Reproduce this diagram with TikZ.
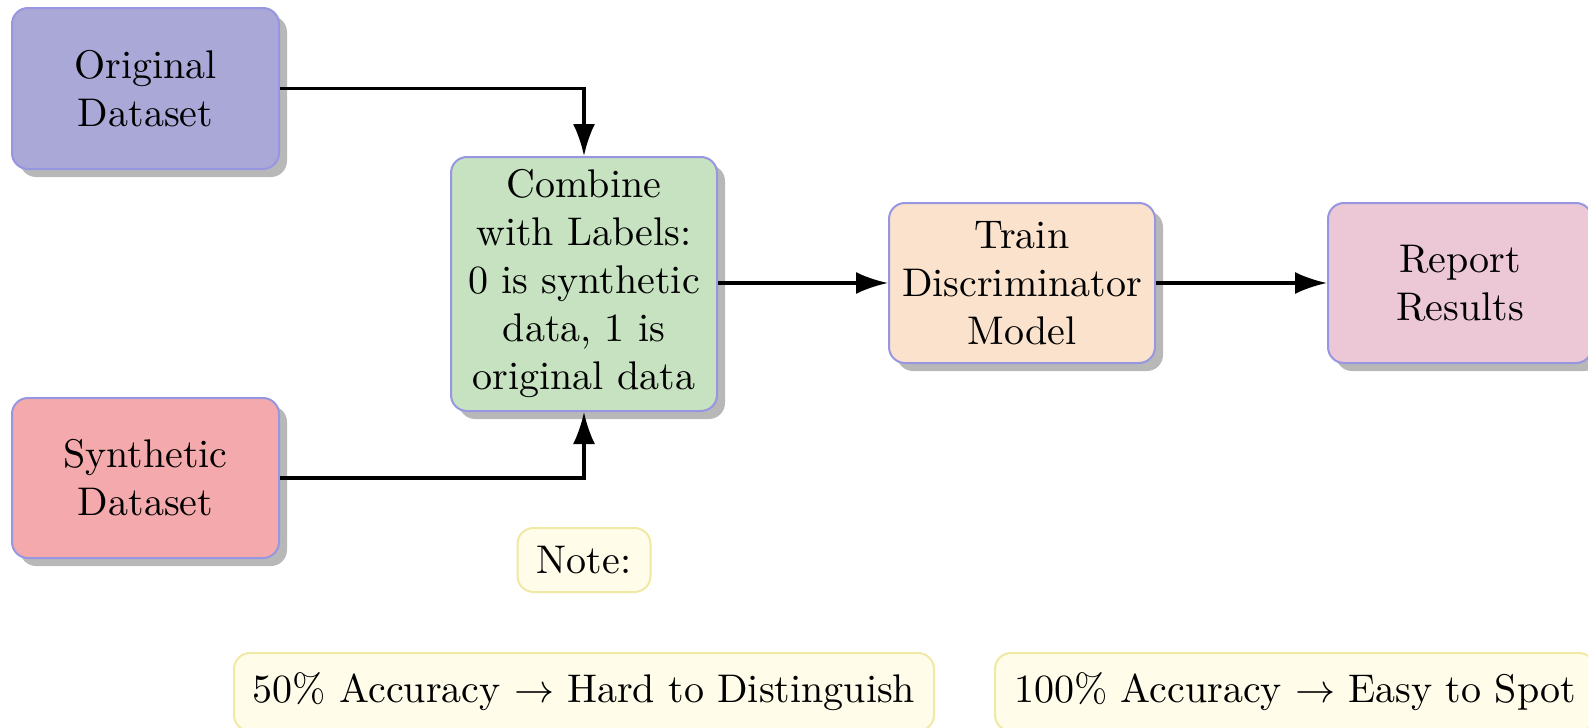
\documentclass[tikz,border=0pt]{standalone}
\usetikzlibrary{arrows.meta,shadows}

\definecolor{origfill}{RGB}{170,168,214}
\definecolor{combfill}{RGB}{198,226,192}
\definecolor{trainfill}{RGB}{250,226,204}
\definecolor{reportfill}{RGB}{236,200,214}
\definecolor{synthfill}{RGB}{244,170,172}
\definecolor{boxline}{RGB}{150,150,225}
\definecolor{notefill}{RGB}{255,253,233}
\definecolor{noteline}{RGB}{240,232,165}

\tikzset{
  stage/.style={draw=boxline, line width=0.5pt, rounded corners=4pt,
    align=center, inner sep=0pt, font=\normalsize,
    drop shadow={shadow xshift=2pt, shadow yshift=-2pt, fill=black, opacity=0.28}},
  notebox/.style={draw=noteline, fill=notefill, line width=0.5pt,
    rounded corners=4pt, align=center, inner sep=0pt},
  flow/.style={line width=0.8pt, -{Latex[length=8pt,width=5.5pt]}}
}

\begin{document}
\begin{tikzpicture}[x=0.25pt, y=-0.25pt]
  \useasboundingbox (0,0) rectangle (1588,728);

  % process stages
  \node[stage, fill=origfill, minimum width=66.75pt, minimum height=40.25pt]
    (orig) at (145.5,88.5) {Original\\Dataset};
  \node[stage, fill=synthfill, minimum width=66.75pt, minimum height=40pt]
    (synth) at (145.5,478) {Synthetic\\Dataset};
  \node[stage, fill=combfill, minimum width=66.5pt, minimum height=63.5pt]
    (comb) at (584,284) {Combine\\with Labels:\\0 is synthetic\\data, 1 is\\original data};
  \node[stage, fill=trainfill, minimum width=66.5pt, minimum height=40pt]
    (train) at (1022,283) {Train\\Discriminator\\Model};
  \node[stage, fill=reportfill, minimum width=66pt, minimum height=40pt]
    (report) at (1460,283) {Report\\Results};

  % notes
  \node[notebox, minimum width=33.25pt, minimum height=16pt]
    (note) at (584,560) {Note:};
  \node[notebox, minimum width=175pt, minimum height=19.5pt]
    (acclow) at (584,692) {50\% Accuracy $\rightarrow$ Hard to Distinguish};
  \node[notebox, minimum width=150pt, minimum height=19.5pt]
    (acchigh) at (1295,692) {100\% Accuracy $\rightarrow$ Easy to Spot};

  % connectors
  \draw[flow] (orig.east) -| (comb.north);
  \draw[flow] (synth.east) -| (comb.south);
  \draw[flow] (comb.east |- train.west) -- (train.west);
  \draw[flow] (train.east) -- (report.west);
\end{tikzpicture}
\end{document}
